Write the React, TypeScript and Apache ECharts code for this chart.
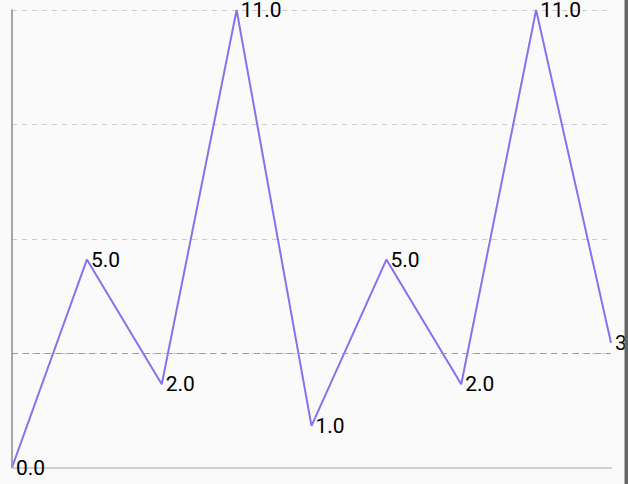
import React, { useEffect, useRef } from "react";
import * as echarts from "echarts";

const categories = ["1", "2", "3", "4", "5", "6", "7", "8", "9"];
const values = [0, 5, 2, 11, 1, 5, 2, 11, 3];
const yMax = 11;
const yInterval = 2.75;
const limitValue = 2.75;

export default function App() {
  const ref = useRef<HTMLDivElement>(null);
  useEffect(() => {
    if (!ref.current) return;
    const chart = echarts.init(ref.current, null, { renderer: "svg" });
    chart.setOption({
      animation: false,
      backgroundColor: "#fafafa",
      grid: { left: 12, right: 17, top: 10, bottom: 16.5, containLabel: false },
      xAxis: {
        type: "category",
        data: categories,
        boundaryGap: false,
        axisLine: { show: true, lineStyle: { color: "#cfcfcf", width: 2 } },
        axisTick: { show: false },
        axisLabel: { show: false },
        splitLine: { show: false },
      },
      yAxis: {
        type: "value",
        min: 0,
        max: yMax,
        interval: yInterval,
        axisLine: { show: true, lineStyle: { color: "#8a8a8a", width: 1.5 } },
        axisTick: { show: false },
        axisLabel: { show: false },
        splitLine: {
          show: true,
          lineStyle: { color: "#cccccc", type: [5, 5], width: 1 },
        },
      },
      series: [
        {
          type: "line",
          data: values,
          symbol: "circle",
          symbolSize: 0,
          lineStyle: { color: "#8472ee", width: 2 },
          itemStyle: { color: "#8472ee" },
          label: {
            show: true,
            position: "right",
            distance: 4,
            color: "#000",
            fontSize: 21,
            fontFamily: "Roboto",
            formatter: (p: any) => Number(p.value).toFixed(1),
          },
          markLine: {
            silent: true,
            symbol: "none",
            label: { show: false },
            lineStyle: { color: "#9a9a9a", type: [6, 5], width: 1 },
            data: [{ yAxis: limitValue }],
          },
        },
      ],
      graphic: [
        {
          type: "rect",
          right: 0,
          top: 0,
          z: 100,
          shape: { width: 3.5, height: 484 },
          style: { fill: "#666666" },
        },
      ],
    });
    return () => chart.dispose();
  }, []);
  return (
    <div
      ref={ref}
      style={{ position: "absolute", left: 0, top: 0, width: 628, height: 484 }}
    />
  );
}
